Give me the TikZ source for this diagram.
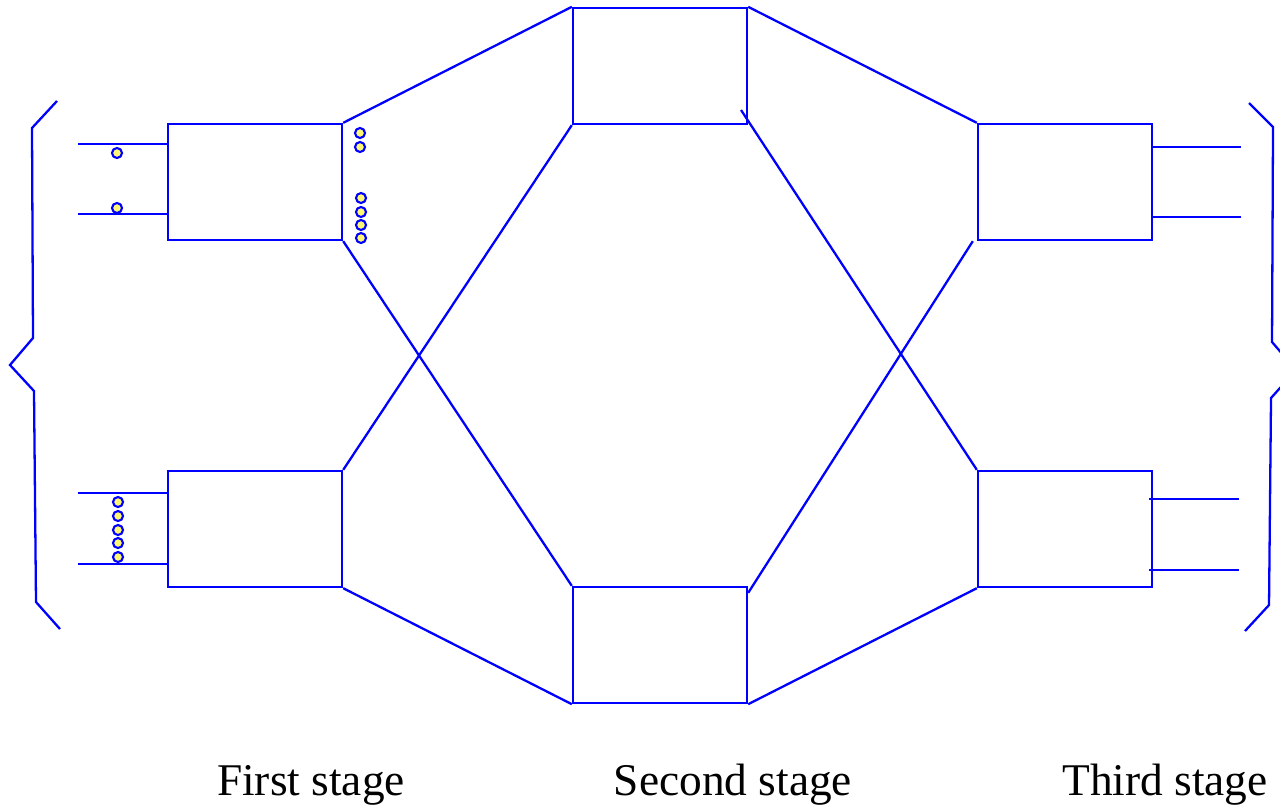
\documentclass[tikz,border=0pt]{standalone}
\usepackage{fontspec}
\setmainfont{Liberation Serif}
\usepackage{tikz}
\usetikzlibrary{positioning, calc}

\tikzset{
  wire/.style={draw=blue, line width=0.65pt},
  stagebox/.style={draw=blue, line width=0.65pt, minimum width=1.74cm, minimum height=1.16cm, inner sep=0pt},
  port/.style={circle, draw=blue, fill=yellow!55, line width=0.6pt, minimum size=0.1cm, inner sep=0pt},
  stagelabel/.style={anchor=base, font=\fontsize{12.9}{15}\selectfont}
}

\begin{document}
\begin{tikzpicture}[x=0.01cm, y=-0.01cm]
      \useasboundingbox (0,0) rectangle (1280,806);

      % first stage
      \node[stagebox] (f1) at (255,182) {};
      \node[stagebox] (f2) at (255,529) {};
      % second stage
      \node[stagebox] (s1) at (660,66) {};
      \node[stagebox] (s2) at (660,645) {};
      % third stage
      \node[stagebox] (t1) at (1065,182) {};
      \node[stagebox] (t2) at (1065,529) {};

      % links between stages
      \draw[wire] (f1.north east) -- (s1.north west);
      \draw[wire] (f1.south east) -- (s2.north west);
      \draw[wire] (f2.north east) -- (s1.south west);
      \draw[wire] (f2.south east) -- (s2.south west);
      \draw[wire] (s1.north east) -- (t1.north west);
      \draw[wire] (s2.south east) -- (t2.south west);
      \coordinate (s1tip) at (741,110);
      \draw[wire] (s1tip) -- (t2.north west);
      \draw[wire] ([xshift=-0.04cm]t1.south west) -- ([yshift=-0.07cm]s2.north east);

      % inputs
      \draw[wire] ([yshift=-0.21cm]f1.north west) -- ++(-89,0);
      \draw[wire] ([yshift=0.27cm]f1.south west) -- ++(-89,0);
      \draw[wire] ([yshift=-0.23cm]f2.north west) -- ++(-89,0);
      \draw[wire] ([yshift=0.24cm]f2.south west) -- ++(-89,0);

      % outputs
      \draw[wire] ([yshift=-0.24cm]t1.north east) -- ++(88,0);
      \draw[wire] ([yshift=0.24cm]t1.south east) -- ++(88,0);
      \draw[wire] ([xshift=-0.04cm, yshift=-0.29cm]t2.north east) -- ++(90,0);
      \draw[wire] ([xshift=-0.04cm, yshift=0.18cm]t2.south east) -- ++(90,0);

      % dots
      \foreach \y in {153,208} \node[port] at (117,\y) {};
      \foreach \y in {133,147} \node[port] at (360,\y) {};
      \foreach \y in {198,212,225,238} \node[port] at (361,\y) {};
      \foreach \y in {502,516,530,543,557} \node[port] at (118,\y) {};

      % braces
      \draw[wire] (57,101) -- (32,128) -- (33,338) -- (10,365) -- (34,391) -- (36,602) -- (60,629);
      \draw[wire] (1249,103) -- (1273,127) -- (1272,342) -- (1296,370) -- (1271,398) -- (1269,605) -- (1245,631);

      % labels
      \node[stagelabel] (lab1) at (311,795) {First stage};
      \node[stagelabel] (lab2) at (733,795) {Second stage};
      \node[stagelabel] (lab3) at (1165,795) {Third stage};
\end{tikzpicture}
\end{document}
